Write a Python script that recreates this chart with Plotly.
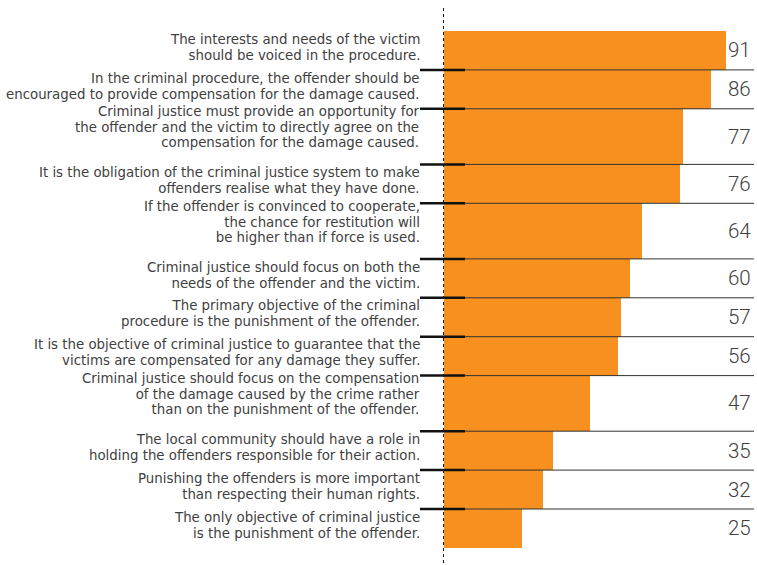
import plotly.graph_objects as go

labels = [
    "The interests and needs of the victim<br>should be voiced in the procedure.",
    "In the criminal procedure, the offender should be<br>encouraged to provide compensation for the damage caused.",
    "Criminal justice must provide an opportunity for<br>the offender and the victim to directly agree on the<br>compensation for the damage caused.",
    "It is the obligation of the criminal justice system to make<br>offenders realise what they have done.",
    "If the offender is convinced to cooperate,<br>the chance for restitution will<br>be higher than if force is used.",
    "Criminal justice should focus on both the<br>needs of the offender and the victim.",
    "The primary objective of the criminal<br>procedure is the punishment of the offender.",
    "It is the objective of criminal justice to guarantee that the<br>victims are compensated for any damage they suffer.",
    "Criminal justice should focus on the compensation<br>of the damage caused by the crime rather<br>than on the punishment of the offender.",
    "The local community should have a role in<br>holding the offenders responsible for their action.",
    "Punishing the offenders is more important<br>than respecting their human rights.",
    "The only objective of criminal justice<br>is the punishment of the offender.",
]
values = [91, 86, 77, 76, 64, 60, 57, 56, 47, 35, 32, 25]

# ---- layout helpers (row geometry in pixel-like y units) ----
W, H = 757, 565
ROW_H = {2: 38.9, 3: 55.6}
TEXT_SHIFT = {2: 3.3, 3: 9.5}      # label block sits a bit above the row centre
TOP = 31.0
LINE_PITCH = 15.7                  # px between label baselines
GLYPH = 13.35                      # px glyph size of labels
LABEL_FONT = "DejaVu Sans"
ORANGE = "#F7901E"
TXT = "#404040"

lines = [l.split("<br>") for l in labels]
heights = [ROW_H[len(ls)] for ls in lines]
tops = []
t = TOP
for h in heights:
    tops.append(t)
    t += h
centers = [tp + h / 2 for tp, h in zip(tops, heights)]

fig = go.Figure(go.Bar(
    x=values, y=centers, width=heights, orientation="h",
    marker=dict(color=ORANGE, line=dict(width=0)),
    hoverinfo="skip",
))

# left margin so that x=0 sits at pixel 444, x=100 at pixel 754
L, R = 444, 3
plot_w = W - L - R


def px_to_paper(px):
    return (px - L) / plot_w


annotations = []
for ls, c in zip(lines, centers):
    txt = "<br>".join(f"<span style='font-size:{GLYPH}px'>{s}</span>" for s in ls)
    annotations.append(dict(
        x=px_to_paper(421), xref="paper", xanchor="right", align="right",
        y=c - TEXT_SHIFT[len(ls)], yref="y", yanchor="middle",
        text=txt, showarrow=False, borderpad=0,
        font=dict(family=LABEL_FONT, size=LINE_PITCH / 1.3, color=TXT),
    ))
for v, c in zip(values, centers):
    annotations.append(dict(
        x=px_to_paper(753), xref="paper", xanchor="right",
        y=c, yref="y", yanchor="middle",
        text=str(v), showarrow=False,
        font=dict(family="Roboto", size=20.5, color=TXT, weight=300),
    ))

shapes = []
# separators between rows
for tp in tops[1:]:
    shapes.append(dict(type="line", xref="x", yref="y", x0=0, x1=100, y0=tp, y1=tp,
                       line=dict(color="#333333", width=1), layer="above"))
    shapes.append(dict(type="line", xref="paper", yref="y",
                       x0=px_to_paper(420), x1=px_to_paper(465), y0=tp, y1=tp,
                       line=dict(color="#111111", width=2.5), layer="above"))
# dotted baseline
shapes.append(dict(type="line", xref="paper", yref="y", x0=px_to_paper(443.5), x1=px_to_paper(443.5),
                   y0=8, y1=H, line=dict(color="#111111", width=1, dash="dot"), layer="above"))

fig.update_layout(
    width=W, height=H,
    margin=dict(l=L, r=R, t=0, b=0),
    paper_bgcolor="white", plot_bgcolor="white",
    showlegend=False,
    bargap=0,
    xaxis=dict(range=[0, 100], visible=False, fixedrange=True),
    yaxis=dict(range=[H, 0], visible=False, fixedrange=True),
    annotations=annotations,
    shapes=shapes,
)

fig.write_html("out.html")
